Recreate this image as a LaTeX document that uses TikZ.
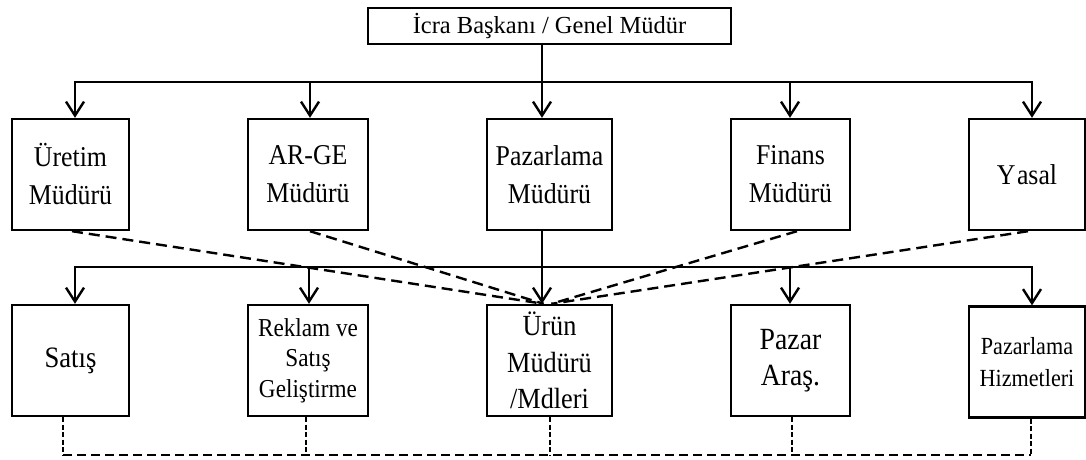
\documentclass[tikz,border=0pt]{standalone}
\usepackage{fontspec}
\setmainfont{Liberation Serif}
\newfontfamily\condser[FakeStretch=0.9]{Liberation Serif}
\usetikzlibrary{arrows.meta}
\begin{document}
\begin{tikzpicture}[x=1pt,y=-1pt,
  box/.style={draw,line width=2.4pt,inner sep=0pt,align=center,minimum height=111pt},
  conn/.style={line width=2.4pt},
  arr/.style={line width=2.4pt,-{Straight Barb[length=14pt,width=18pt]}},
  dl/.style={line width=2.4pt,dash pattern=on 11pt off 6pt},
  db/.style={line width=2.4pt,dash pattern=on 9pt off 5pt},
  ds/.style={line width=2.4pt,dash pattern=on 5pt off 2.5pt},
  fa/.style={font=\condser\fontsize{28.7}{38}\selectfont},
  fb/.style={font=\condser\fontsize{29.2}{36.5}\selectfont}]
\useasboundingbox (0,0) rectangle (1086,459);
% top
\node[draw,line width=2.4pt,inner sep=0pt,minimum width=363pt,minimum height=36pt,
  font=\fontsize{24.5}{28}\selectfont] (top) at (549.5,26) {İcra Başkanı / Genel Müdür};
% row 1
\node[box,fa,minimum width=117pt] (u)  at (70.5,174.5)  {Üretim\\Müdürü};
\node[box,fa,minimum width=120pt] (ar) at (308,174.5)   {AR-GE\\Müdürü};
\node[box,fa,minimum width=125pt] (pz) at (549.5,174.5) {Pazarlama\\Müdürü};
\node[box,fa,minimum width=119pt] (fn) at (790.5,174.5) {Finans\\Müdürü};
\node[box,fa,minimum width=116pt] (ys) at (1027,174.5)  {Y\kern1.5pt asal};
% row 2
\node[box,font=\condser\fontsize{29.6}{36}\selectfont,minimum width=117pt] (sa) at (70.5,360.5)  {Satış};
\node[box,minimum width=120pt,font=\condser\fontsize{25.8}{30.5}\selectfont] (rk) at (308,360.5) {Reklam ve\\Satış\\Geliştirme};
\node[box,fb,minimum width=125pt] (ur) at (549.5,360.5) {Ürün\\Müdürü\\/Mdleri};
\node[box,font=\condser\fontsize{30.8}{36}\selectfont,minimum width=119pt] (pa) at (790.5,360.5) {Pazar\\Araş.};
\node[box,font=\condser\fontsize{24.6}{32}\selectfont,minimum width=116pt] (ph) at (1027,362) {Pazarlama\\Hizmetleri};
% bus 1
\coordinate (j1) at (542,82);
\draw[conn] ([xshift=-7.5]top.south) -- (j1);
\draw[arr] (j1) -| ([xshift=4.5]u.north);
\draw[arr] (j1) -| ([xshift=5]ys.north);
\draw[arr] (j1) -- ([xshift=-7.5]pz.north);
\draw[arr] ([xshift=2]ar.north |- j1) -- ([xshift=2]ar.north);
\draw[arr] ([xshift=-0.5]fn.north |- j1) -- ([xshift=-0.5]fn.north);
% bus 2
\coordinate (j2) at (542,267);
\draw[arr] ([xshift=-7.5]pz.south) -- ([xshift=-7.5]ur.north);
\draw[arr] (j2) -| ([xshift=4.5]sa.north);
\draw[arr] (j2) -| ([xshift=5]ph.north);
\draw[arr] ([xshift=1]rk.north |- j2) -- ([xshift=1]rk.north);
\draw[arr] ([xshift=-0.5]pa.north |- j2) -- ([xshift=-0.5]pa.north);
% dashed diagonals
\draw[dl] ([xshift=1.5]u.south) -- ([xshift=-6]ur.north);
\draw[dl] ([xshift=2]ar.south) -- ([xshift=-6]ur.north);
\draw[dl] ([xshift=6.5]fn.south) -- ([xshift=2]ur.north);
\draw[dl] ([xshift=1]ys.south) -- ([xshift=2]ur.north);
% bottom dashed
\coordinate (j3) at (0,455);
\draw[ds] ([xshift=-7.5]sa.south) -- ([xshift=-7.5]sa.south |- j3);
\draw[ds] ([xshift=-2]rk.south) -- ([xshift=-2]rk.south |- j3);
\draw[ds] ([xshift=0.5]ur.south) -- ([xshift=0.5]ur.south |- j3);
\draw[ds] ([xshift=1.5]pa.south) -- ([xshift=1.5]pa.south |- j3);
\draw[ds] ([xshift=4]ph.south) -- ([xshift=4]ph.south |- j3);
\draw[db] ([xshift=-7.5]sa.south |- j3) -- ([xshift=4]ph.south |- j3);
\end{tikzpicture}
\end{document}
